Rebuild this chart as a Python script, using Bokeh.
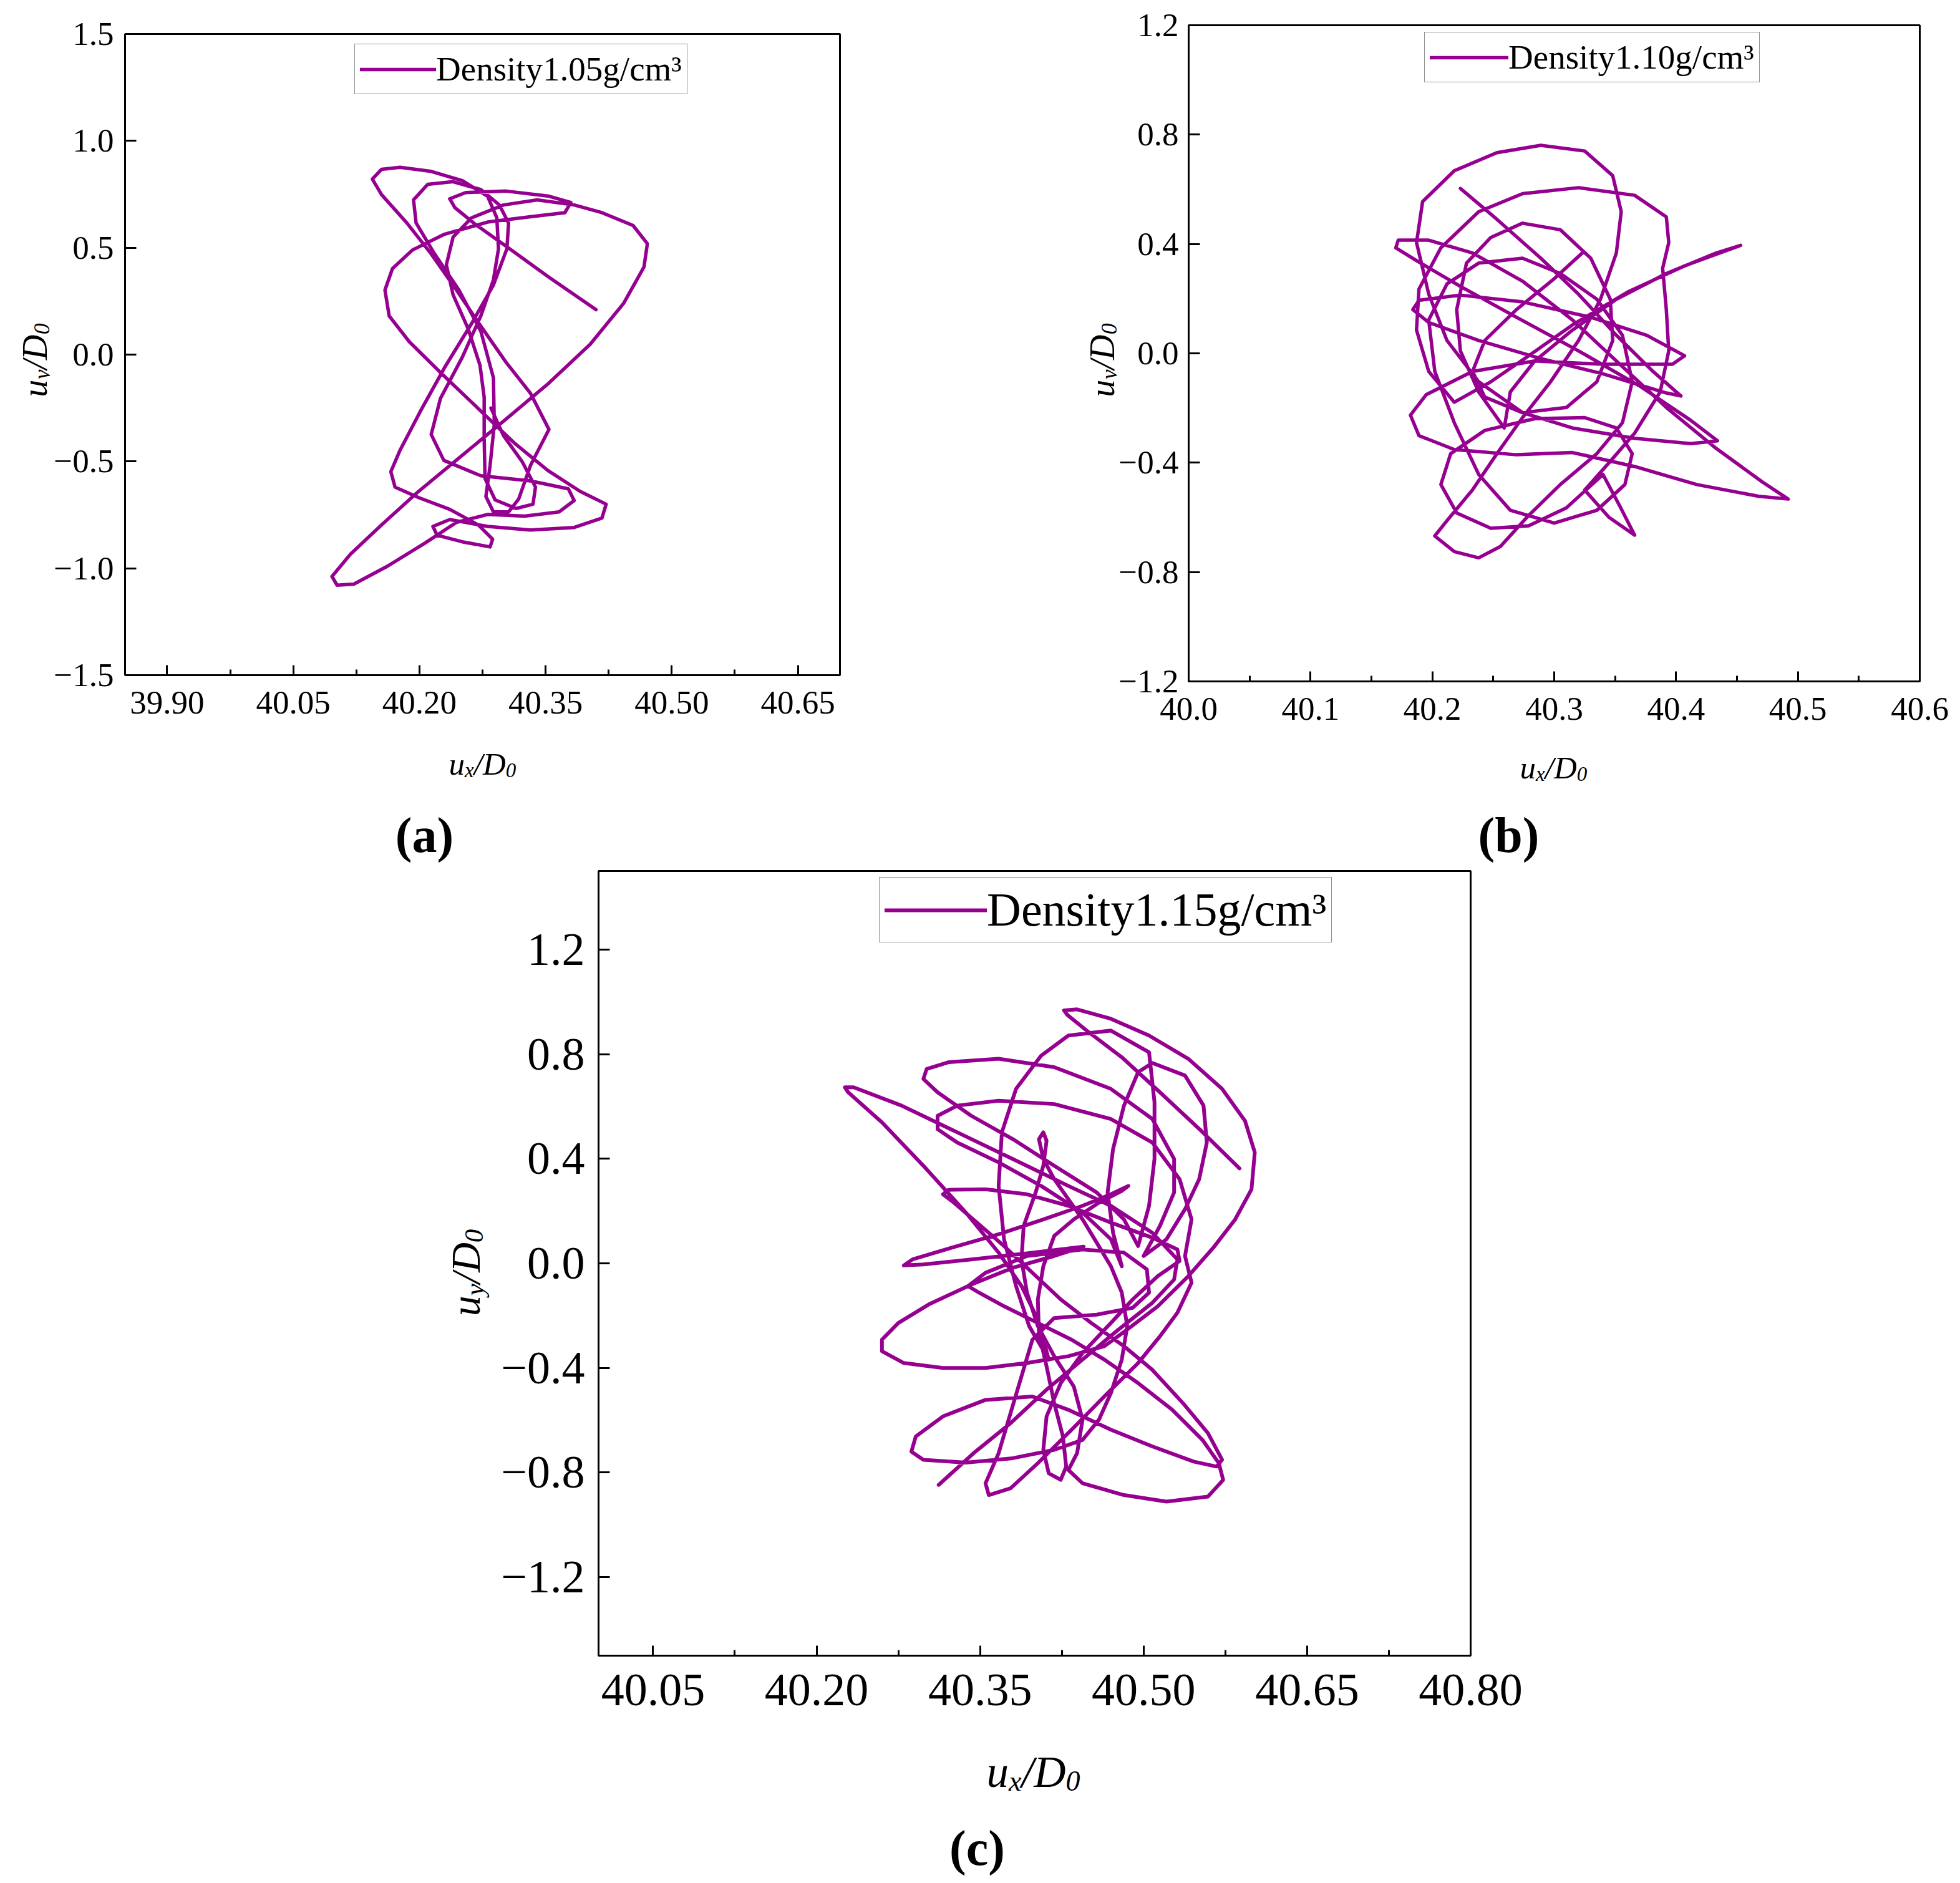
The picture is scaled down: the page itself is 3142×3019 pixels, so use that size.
import math
from bokeh.plotting import figure
from bokeh.models import Legend, LegendItem, FixedTicker, CustomJSTickFormatter, Spacer
from bokeh.core.properties import value
from bokeh.layouts import row, column
from bokeh.embed import file_html
from bokeh.resources import INLINE

FONT = "Liberation Serif"
PURPLE = "#960090"

# legend texts
legend_a = "Density1.05g/cm\u00b3"
legend_b = "Density1.10g/cm\u00b3"
legend_c = "Density1.15g/cm\u00b3"

# trajectories (u_x/D0, u_y/D0)
traj_a = [
    (40.410, 0.210), (40.354, 0.362), (40.303, 0.507), (40.266, 0.611), (40.242, 0.688), (40.236, 0.729),
    (40.255, 0.758), (40.303, 0.765), (40.354, 0.741), (40.380, 0.712), (40.373, 0.664), (40.332, 0.645),
    (40.281, 0.620), (40.229, 0.562), (40.192, 0.490), (40.168, 0.403), (40.159, 0.302), (40.164, 0.181),
    (40.188, 0.060), (40.225, -0.084), (40.270, -0.253), (40.314, -0.418), (40.353, -0.543), (40.391, -0.640),
    (40.422, -0.700), (40.417, -0.765), (40.384, -0.809), (40.332, -0.821), (40.281, -0.804), (40.236, -0.772),
    (40.216, -0.804), (40.221, -0.845), (40.251, -0.876), (40.284, -0.900), (40.287, -0.864), (40.270, -0.797),
    (40.236, -0.724), (40.199, -0.669), (40.171, -0.620), (40.166, -0.548), (40.177, -0.447), (40.201, -0.266),
    (40.230, -0.060), (40.262, 0.145), (40.288, 0.326), (40.304, 0.495), (40.306, 0.616), (40.295, 0.700),
    (40.273, 0.772), (40.240, 0.809), (40.210, 0.797), (40.193, 0.724), (40.196, 0.616), (40.218, 0.471),
    (40.247, 0.302), (40.273, 0.109), (40.288, -0.109), (40.289, -0.326), (40.284, -0.519), (40.279, -0.664),
    (40.288, -0.736), (40.306, -0.736), (40.318, -0.676), (40.332, -0.519), (40.354, -0.350), (40.332, -0.181),
    (40.303, -0.036), (40.273, 0.133), (40.244, 0.302), (40.214, 0.471), (40.185, 0.616), (40.155, 0.748),
    (40.144, 0.821), (40.155, 0.867), (40.177, 0.876), (40.214, 0.857), (40.251, 0.814), (40.281, 0.741),
    (40.292, 0.640), (40.294, 0.495), (40.288, 0.350), (40.273, 0.181), (40.251, -0.012), (40.225, -0.205),
    (40.214, -0.374), (40.229, -0.495), (40.273, -0.567), (40.332, -0.591), (40.377, -0.628), (40.384, -0.683),
    (40.366, -0.736), (40.325, -0.756), (40.281, -0.748), (40.244, -0.785), (40.207, -0.881), (40.162, -0.990),
    (40.122, -1.074), (40.102, -1.079), (40.096, -1.038), (40.118, -0.934), (40.155, -0.797), (40.199, -0.640),
    (40.251, -0.471), (40.303, -0.302), (40.354, -0.133), (40.403, 0.048), (40.443, 0.241), (40.467, 0.410),
    (40.471, 0.519), (40.454, 0.604), (40.417, 0.664), (40.384, 0.700), (40.340, 0.724), (40.300, 0.700),
    (40.262, 0.640), (40.240, 0.550), (40.232, 0.420), (40.240, 0.280), (40.258, 0.120), (40.272, -0.050),
    (40.277, -0.200), (40.277, -0.400), (40.278, -0.580), (40.290, -0.680), (40.315, -0.720), (40.335, -0.700),
    (40.338, -0.620), (40.322, -0.500), (40.300, -0.380), (40.285, -0.250),
]

traj_b = [
    (40.223, 0.603), (40.253, 0.490), (40.289, 0.348), (40.320, 0.216), (40.351, 0.066), (40.381, -0.066),
    (40.404, -0.156), (40.392, -0.145), (40.340, -0.075), (40.289, -0.019), (40.238, 0.047), (40.197, 0.113),
    (40.184, 0.160), (40.189, 0.194), (40.223, 0.213), (40.274, 0.188), (40.330, 0.132), (40.376, 0.066),
    (40.407, -0.009), (40.397, -0.040), (40.340, -0.040), (40.284, -0.028), (40.233, -0.066), (40.195, -0.151),
    (40.182, -0.226), (40.189, -0.301), (40.218, -0.352), (40.269, -0.371), (40.315, -0.363), (40.366, -0.414),
    (40.417, -0.480), (40.468, -0.523), (40.492, -0.533), (40.471, -0.471), (40.433, -0.348), (40.392, -0.198),
    (40.351, -0.028), (40.315, 0.122), (40.274, 0.264), (40.233, 0.367), (40.197, 0.414), (40.172, 0.414),
    (40.170, 0.386), (40.187, 0.339), (40.223, 0.245), (40.269, 0.132), (40.320, 0.009), (40.371, -0.122),
    (40.412, -0.245), (40.434, -0.320), (40.412, -0.330), (40.366, -0.311), (40.315, -0.273), (40.274, -0.217),
    (40.238, -0.104), (40.212, 0.047), (40.197, 0.217), (40.187, 0.405), (40.192, 0.555), (40.218, 0.668),
    (40.253, 0.734), (40.289, 0.761), (40.325, 0.740), (40.348, 0.650), (40.355, 0.518), (40.351, 0.367),
    (40.338, 0.198), (40.320, 0.047), (40.297, -0.104), (40.274, -0.235), (40.253, -0.367), (40.233, -0.499),
    (40.212, -0.612), (40.202, -0.668), (40.218, -0.725), (40.238, -0.748), (40.256, -0.706), (40.279, -0.593),
    (40.305, -0.480), (40.335, -0.367), (40.356, -0.254), (40.364, -0.104), (40.356, 0.066), (40.335, 0.198),
    (40.305, 0.292), (40.274, 0.348), (40.238, 0.330), (40.212, 0.254), (40.197, 0.122), (40.202, -0.066),
    (40.218, -0.254), (40.238, -0.443), (40.264, -0.574), (40.300, -0.621), (40.335, -0.574), (40.358, -0.480),
    (40.364, -0.367), (40.351, -0.273), (40.325, -0.235), (40.284, -0.239), (40.243, -0.282), (40.215, -0.367),
    (40.207, -0.480), (40.220, -0.584), (40.248, -0.640), (40.279, -0.631), (40.310, -0.565), (40.340, -0.443),
    (40.354, -0.560), (40.366, -0.665), (40.345, -0.600), (40.325, -0.500), (40.345, -0.400),
    (40.366, -0.292), (40.387, -0.141), (40.394, 0.009), (40.392, 0.160), (40.389, 0.311), (40.394, 0.405),
    (40.392, 0.499), (40.366, 0.578), (40.320, 0.606), (40.274, 0.584), (40.238, 0.518), (40.207, 0.386),
    (40.189, 0.235), (40.187, 0.085), (40.197, -0.066), (40.218, -0.179), (40.248, -0.104), (40.279, -0.009),
    (40.315, 0.104), (40.361, 0.226), (40.407, 0.320), (40.453, 0.395), (40.433, 0.367), (40.392, 0.292),
    (40.351, 0.198), (40.315, 0.085), (40.284, -0.028), (40.264, -0.141), (40.259, -0.273), (40.238, -0.141),
    (40.223, 0.009), (40.220, 0.160), (40.228, 0.330), (40.248, 0.424), (40.274, 0.476), (40.305, 0.452),
    (40.330, 0.348), (40.346, 0.198), (40.348, 0.047), (40.335, -0.104), (40.310, -0.198), (40.274, -0.217),
    (40.243, -0.160), (40.233, -0.066), (40.243, 0.047), (40.269, 0.160), (40.300, 0.273), (40.324, 0.371),
]

traj_c = [
    (40.588, 0.363), (40.551, 0.514), (40.515, 0.654), (40.480, 0.788), (40.449, 0.886), (40.430, 0.950),
    (40.427, 0.967), (40.439, 0.971), (40.470, 0.935), (40.505, 0.871), (40.541, 0.782), (40.572, 0.667),
    (40.593, 0.545), (40.602, 0.424), (40.599, 0.283), (40.584, 0.168), (40.564, 0.060), (40.541, -0.049),
    (40.513, -0.164), (40.485, -0.253), (40.464, -0.317),
    (40.431, -0.355), (40.393, -0.381), (40.355, -0.400), (40.316, -0.400), (40.280, -0.381), (40.260, -0.336),
    (40.260, -0.292), (40.275, -0.228), (40.303, -0.157), (40.342, -0.081), (40.380, -0.017), (40.418, 0.028),
    (40.445, 0.064),
    (40.393, 0.038), (40.342, 0.015), (40.298, -0.004), (40.280, -0.008), (40.288, 0.015), (40.324, 0.060),
    (40.367, 0.111), (40.408, 0.168), (40.444, 0.220), (40.470, 0.264), (40.486, 0.296), (40.480, 0.277),
    (40.459, 0.232), (40.436, 0.168), (40.418, 0.105),
    (40.408, -0.011), (40.403, -0.138), (40.404, -0.266), (40.411, -0.394), (40.418, -0.534), (40.426, -0.662),
    (40.429, -0.777), (40.424, -0.828), (40.413, -0.803), (40.408, -0.713), (40.411, -0.585), (40.424, -0.458),
    (40.444, -0.343), (40.470, -0.228), (40.490, -0.138), (40.513, -0.049),
    (40.533, 0.009), (40.531, 0.053), (40.508, 0.098), (40.470, 0.156), (40.431, 0.220), (40.393, 0.264),
    (40.355, 0.283), (40.321, 0.281), (40.316, 0.264), (40.326, 0.232), (40.347, 0.156), (40.372, 0.066),
    (40.398, -0.036), (40.424, -0.138), (40.452, -0.228), (40.482, -0.317),
    (40.508, -0.407), (40.536, -0.534), (40.559, -0.649), (40.572, -0.751), (40.567, -0.777), (40.546, -0.758),
    (40.508, -0.700), (40.470, -0.636), (40.431, -0.560), (40.398, -0.509),
    (40.355, -0.522), (40.316, -0.585), (40.291, -0.662), (40.287, -0.720), (40.298, -0.751), (40.337, -0.762),
    (40.380, -0.745), (40.418, -0.713), (40.444, -0.675), (40.459, -0.598), (40.470, -0.496), (40.480, -0.368),
    (40.485, -0.240), (40.480, -0.112), (40.470, -0.011), (40.457, 0.079), (40.444, 0.168), (40.431, 0.245),
    (40.418, 0.322), (40.408, 0.399), (40.404, 0.475), (40.408, 0.501), (40.411, 0.469), (40.408, 0.373),
    (40.401, 0.271), (40.390, 0.143), (40.388, 0.015), (40.393, -0.112), (40.403, -0.240), (40.418, -0.355),
    (40.436, -0.471), (40.444, -0.598), (40.439, -0.726), (40.431, -0.790), (40.444, -0.841), (40.482, -0.886),
    (40.521, -0.911), (40.559, -0.892), (40.573, -0.828), (40.569, -0.764), (40.554, -0.675), (40.526, -0.559),
    (40.495, -0.458), (40.464, -0.368), (40.434, -0.292), (40.403, -0.228), (40.372, -0.164), (40.349, -0.112),
    (40.339, -0.087),
    (40.355, -0.036), (40.393, 0.028), (40.444, 0.053), (40.482, 0.041), (40.503, -0.023), (40.505, -0.112),
    (40.490, -0.170), (40.457, -0.196), (40.418, -0.209), (40.398, -0.292),
    (40.388, -0.432), (40.378, -0.572), (40.367, -0.726), (40.355, -0.841), (40.358, -0.886), (40.378, -0.860),
    (40.403, -0.764), (40.434, -0.636), (40.467, -0.496), (40.495, -0.381), (40.515, -0.279), (40.531, -0.189),
    (40.544, -0.074), (40.538, 0.028), (40.544, 0.168), (40.533, 0.322), (40.508, 0.462), (40.470, 0.552),
    (40.418, 0.609), (40.367, 0.622), (40.329, 0.603), (40.311, 0.564), (40.311, 0.513), (40.329, 0.462),
    (40.367, 0.386), (40.406, 0.296), (40.444, 0.194), (40.470, 0.092), (40.480, -0.011),
    (40.472, 0.117), (40.467, 0.271), (40.472, 0.437), (40.482, 0.603), (40.495, 0.731), (40.508, 0.766),
    (40.538, 0.718), (40.555, 0.603), (40.558, 0.462), (40.551, 0.322), (40.538, 0.207), (40.521, 0.092),
    (40.500, 0.028), (40.515, 0.143), (40.528, 0.271), (40.528, 0.399),
    (40.508, 0.552), (40.470, 0.667), (40.418, 0.750), (40.367, 0.782), (40.321, 0.769), (40.301, 0.743),
    (40.298, 0.705), (40.311, 0.654), (40.342, 0.564), (40.380, 0.475), (40.418, 0.373), (40.457, 0.271),
    (40.482, 0.168), (40.495, 0.066), (40.505, 0.220), (40.510, 0.399), (40.510, 0.616), (40.505, 0.807),
    (40.470, 0.890), (40.431, 0.871), (40.406, 0.794), (40.383, 0.667), (40.370, 0.501), (40.367, 0.296),
    (40.372, 0.092), (40.383, -0.087), (40.395, -0.240), (40.413, -0.368),
    (40.403, -0.215), (40.388, -0.087), (40.367, 0.041), (40.337, 0.194), (40.298, 0.373), (40.260, 0.539),
    (40.229, 0.654), (40.226, 0.673), (40.234, 0.673), (40.278, 0.603), (40.329, 0.501), (40.380, 0.399),
    (40.431, 0.296), (40.470, 0.220), (40.508, 0.117), (40.531, 0.015), (40.528, -0.062), (40.508, -0.151),
    (40.477, -0.253), (40.444, -0.368), (40.411, -0.483), (40.378, -0.611), (40.344, -0.726), (40.312, -0.847),
]

# axis ticks
xticks_a = [39.90, 40.05, 40.20, 40.35, 40.50, 40.65]
xminor_a = [39.975, 40.125, 40.275, 40.425, 40.575]
yticks_a = [-1.5, -1.0, -0.5, 0.0, 0.5, 1.0, 1.5]

xticks_b = [40.0, 40.1, 40.2, 40.3, 40.4, 40.5, 40.6]
xminor_b = [40.05, 40.15, 40.25, 40.35, 40.45, 40.55]
yticks_b = [-1.2, -0.8, -0.4, 0.0, 0.4, 0.8, 1.2]

xticks_c = [40.05, 40.20, 40.35, 40.50, 40.65, 40.80]
xminor_c = [40.125, 40.275, 40.425, 40.575, 40.725]
yticks_c = [-1.2, -0.8, -0.4, 0.0, 0.4, 0.8, 1.2]

# the label strips below the top plots come out about this much lower than laid out
SHIFT = 20


def fmt(digits):
    return CustomJSTickFormatter(code="return tick.toFixed(%d).replace('-', '\\u2212');" % digits)


def text_fig(w, h):
    # blank figure whose data units are pixels, used for the texts outside the frames
    f = figure(width=w, height=h, x_range=(0, w), y_range=(0, h), output_backend="svg",
               toolbar_location=None, tools="", min_border=0, frame_align=False,
               x_axis_location=None, y_axis_location=None,
               background_fill_color="white", border_fill_color="white")
    f.grid.visible = False
    f.outline_line_color = None
    return f


def ulabel(f, sub, cx, cy, size, vertical=False):
    # u_sub / D_0 with real-text subscripts
    small = size * 0.65
    drop = size * 0.21
    parts = [("u", size, 0.0, 0.5 * size), (sub, small, drop, 0.444 * small),
             ("/", size, 0.0, 0.278 * size), ("D", size, 0.0, 0.722 * size),
             ("0", small, drop, 0.5 * small)]
    total = sum(pt[3] for pt in parts)
    pos = (cy if vertical else cx) - total / 2
    for txt, sz, dr, w in parts:
        if vertical:
            x, y, ang, al = cx + dr, pos + w, math.pi / 2, "right"
        else:
            x, y, ang, al = pos, cy - dr, 0.0, "left"
        f.text(x=[x], y=[y], text=[txt], angle=ang, text_font=value(FONT),
               text_font_size=value("%dpx" % round(sz)), text_font_style="italic",
               text_align=al, text_baseline="alphabetic", text_color="black")
        pos += w


def tag(f, txt, x, y, size=80):
    f.text(x=[x], y=[y], text=[txt], text_font=value(FONT), text_font_size=value("%dpx" % size),
           text_font_style="bold", text_align="center", text_baseline="alphabetic", text_color="black")


def panel(traj, leg_text, xr, yr, xt, xm, yt, xdig, fw, fh, borders, fs, lfs, lw, leg_loc, glyph_w,
          xstand, ystand):
    bl, br, bt, bb = borders
    p = figure(frame_width=fw, frame_height=fh, x_range=xr, y_range=yr,
               output_backend="svg", toolbar_location=None, tools="", frame_align=False,
               min_border_left=bl, min_border_right=br, min_border_top=bt, min_border_bottom=bb,
               background_fill_color="white", border_fill_color="white")
    p.grid.visible = False
    p.outline_line_color = "black"
    p.outline_line_width = 3
    p.outline_line_alpha = 1.0

    r = p.line([t[0] for t in traj], [t[1] for t in traj], line_color=PURPLE,
               line_width=lw, line_join="round", line_cap="round")

    for ax in (p.xaxis[0], p.yaxis[0]):
        ax.axis_label = None
        ax.axis_line_width = 3
        ax.axis_line_color = "black"
        ax.major_tick_line_width = 3
        ax.minor_tick_line_width = 3
        ax.major_tick_out = 0
        ax.minor_tick_out = 0
        ax.major_label_text_font = FONT
        ax.major_label_text_font_size = "%dpx" % fs
        ax.major_label_text_color = "black"
    p.xaxis.ticker = FixedTicker(ticks=xt, minor_ticks=xm)
    p.xaxis.formatter = fmt(xdig)
    p.xaxis.major_tick_in = 16
    p.xaxis.minor_tick_in = 9
    p.xaxis.major_label_standoff = xstand
    p.yaxis.ticker = FixedTicker(ticks=yt)
    p.yaxis.formatter = fmt(1)
    p.yaxis.major_tick_in = 18
    p.yaxis.minor_tick_line_color = None
    p.yaxis.major_label_standoff = ystand

    leg = Legend(items=[LegendItem(label=leg_text, renderers=[r])], location=leg_loc,
                 label_text_font=FONT, label_text_font_size="%dpx" % lfs, label_text_color="black",
                 glyph_width=glyph_w, glyph_height=40, label_standoff=0, padding=8,
                 margin=0, spacing=0, border_line_color="#222222", border_line_width=1.5,
                 background_fill_color="white", background_fill_alpha=1.0)
    p.add_layout(leg)
    return p


# panel (a): left column of the top row (strip below spans 1190..1392)
pa = panel(traj_a, legend_a, (39.85, 40.70), (-1.5, 1.5), xticks_a, xminor_a, yticks_a, 2,
           1146, 1028, (120, 254, 54, 108), 53, 55, 5.5, (368, 931), 122, 26, 18)
ya = text_fig(80, 1190)
ulabel(ya, "y", 55, 1190 - 577, 56, vertical=True)
xa = text_fig(1600, 202)
ulabel(xa, "x", 773, 1392 - (1244 - SHIFT), 51)
tag(xa, "(a)", 680, 1392 - (1358 - SHIFT))

# panel (b): right column of the top row (strip below spans 1192..1392)
pb = panel(traj_b, legend_b, (40.0, 40.6), (-1.2, 1.2), xticks_b, xminor_b, yticks_b, 1,
           1172, 1052, (114, 60, 40, 100), 53, 55, 5.5, (378, 960), 126, 26, 16)
yb = text_fig(190, 1192)
ulabel(yb, "y", 166, 1192 - 577, 56, vertical=True)
xb = text_fig(1536, 200)
ulabel(xb, "x", 890, 1392 - (1250 - SHIFT), 51)
tag(xb, "(b)", 818, 1392 - (1358 - SHIFT))

# panel (c): bottom, centred (strip below spans 2774..3015)
pc = panel(traj_c, legend_c, (40.0, 40.8), (-1.5, 1.5), xticks_c, xminor_c, yticks_c, 2,
           1398, 1258, (156, 146, 4, 120), 74, 76, 6, (450, 1143), 164, 30, 22)
yc = text_fig(120, 1382)
ulabel(yc, "y", 66, 2774 - 2040, 66, vertical=True)
xc = text_fig(1820, 241)
ulabel(xc, "x", 976, 3015 - 2840, 71)
tag(xc, "(c)", 886, 3015 - 2962)

layout = column(
    row(column(row(ya, pa), xa), column(row(yb, pb), xb)),
    row(Spacer(width=680, height=10), column(row(yc, pc), xc)),
)

open("out.html", "w").write(file_html(layout, INLINE))
